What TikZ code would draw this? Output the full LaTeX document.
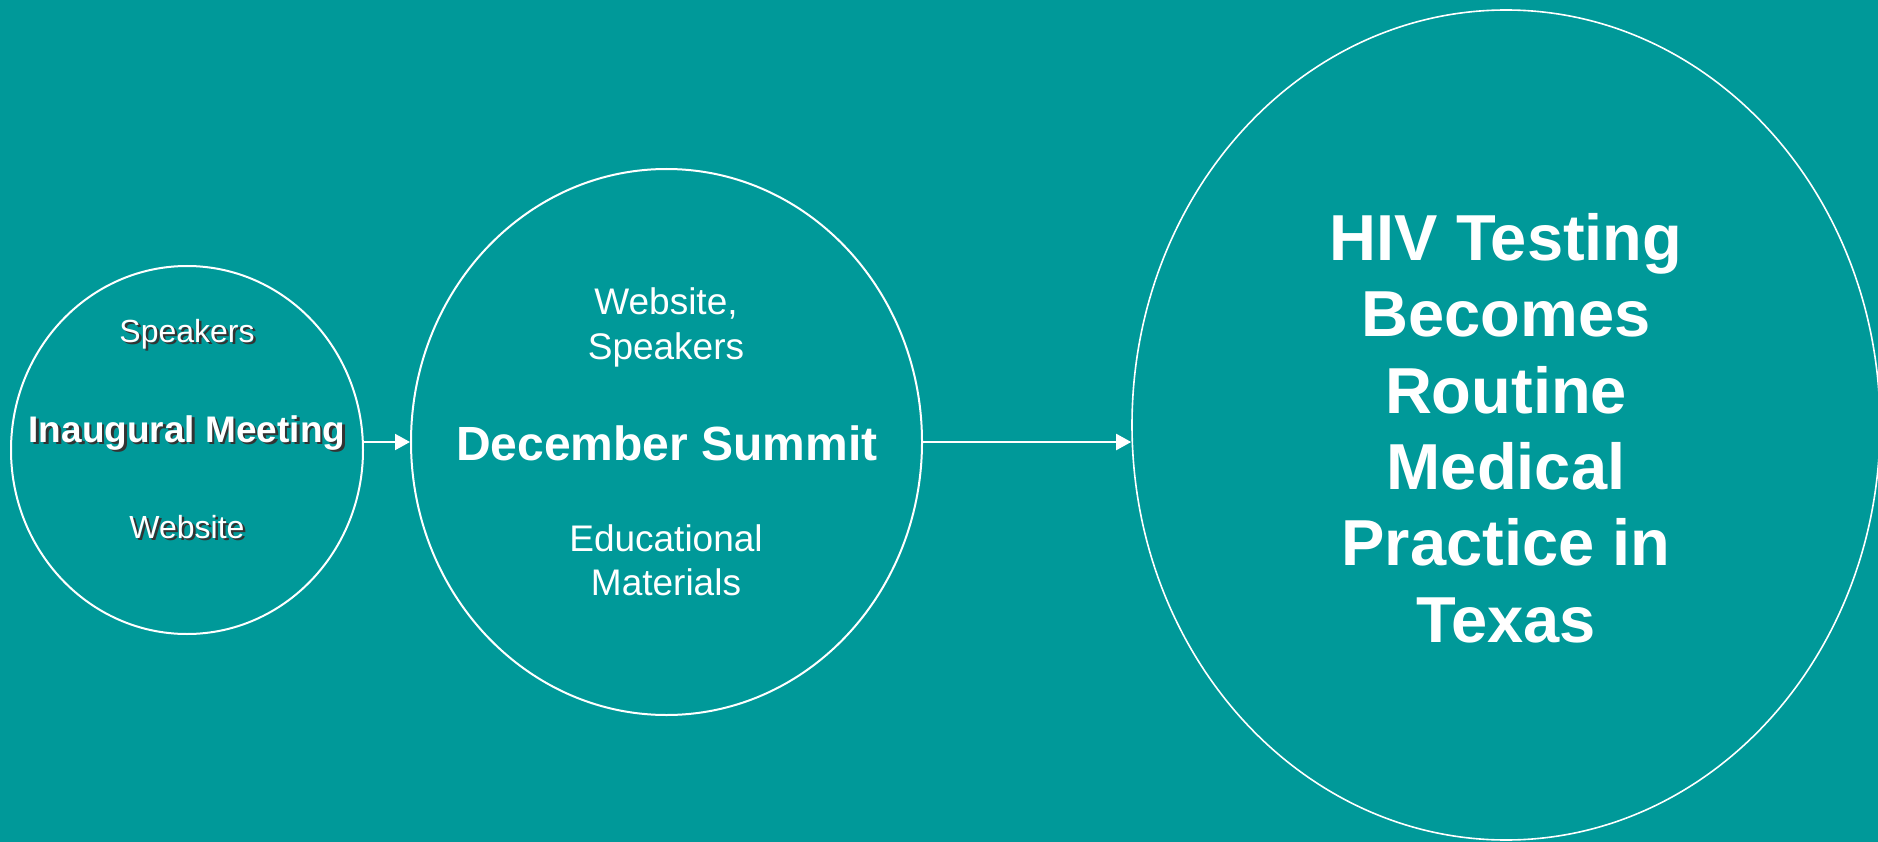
\documentclass[tikz,border=0pt]{standalone}
\usepackage{fontspec}
\setmainfont{Liberation Sans}
\usetikzlibrary{shapes.geometric,arrows.meta,positioning}
\definecolor{bgteal}{RGB}{0,153,153}

\begin{document}
\begin{tikzpicture}[x=1pt, y=-1pt,
    ring/.style={draw=white, ellipse, inner sep=0pt, line width=2pt},
    lbl/.style={text=white, align=center, inner sep=0pt, anchor=base},
    shade/.style={lbl, text=black!80},
    flow/.style={white, line width=2pt, -{Triangle[length=15pt, width=16pt]}}]
    % Background
    \fill[bgteal] (0,0) rectangle (1878,842);
    \useasboundingbox (0,0) rectangle (1878,842);
    % Circles
    \node[ring, minimum width=352pt, minimum height=368pt] (meeting) at (187,450) {};
    \node[ring, minimum width=511pt, minimum height=546pt] (summit) at (666.5,442) {};
    \node[ring, line width=1.6pt, minimum width=748pt,
    minimum height=830pt] (routine) at (1506,425) {};
    % Arrows
    \draw[flow] (meeting.east |- summit.west) -- (summit.west);
    \draw[flow] (summit.east) -- (routine.west |- summit.east);
    % Labels, first circle (with shadow)
    \node[shade, font=\fontsize{32}{38}\selectfont] (spk1s) at (189.5,344) {Speakers};
    \node[lbl, font=\fontsize{32}{38}\selectfont] (spk1) at (187,342) {Speakers};
    \node[shade, font=\bfseries\fontsize{37}{44}\selectfont] (inaugs) at (189.5,444) {Inaugural Meeting};
    \node[lbl, font=\bfseries\fontsize{37}{44}\selectfont] (inaug) at (187,442) {Inaugural Meeting};
    \node[shade, font=\fontsize{32}{38}\selectfont] (web1s) at (189.5,540) {Website};
    \node[lbl, font=\fontsize{32}{38}\selectfont] (web1) at (187,538) {Website};
    % Labels, second circle (base = last line)
    \node[lbl, font=\fontsize{37}{45}\selectfont] (webspk) at (666,359) {Website,\\Speakers};
    \node[lbl, font=\bfseries\fontsize{48}{56}\selectfont] (dec) at (667,460) {December Summit};
    \node[lbl, font=\fontsize{37}{44}\selectfont] (edu) at (666,595) {Educational\\Materials};
    % Goal
    \node[lbl, anchor=center, font=\bfseries\fontsize{65}{76.4}\selectfont] (goal) at (1506,428)
    {HIV Testing\\Becomes\\Routine\\Medical\\Practice in\\Texas};
\end{tikzpicture}
\end{document}
